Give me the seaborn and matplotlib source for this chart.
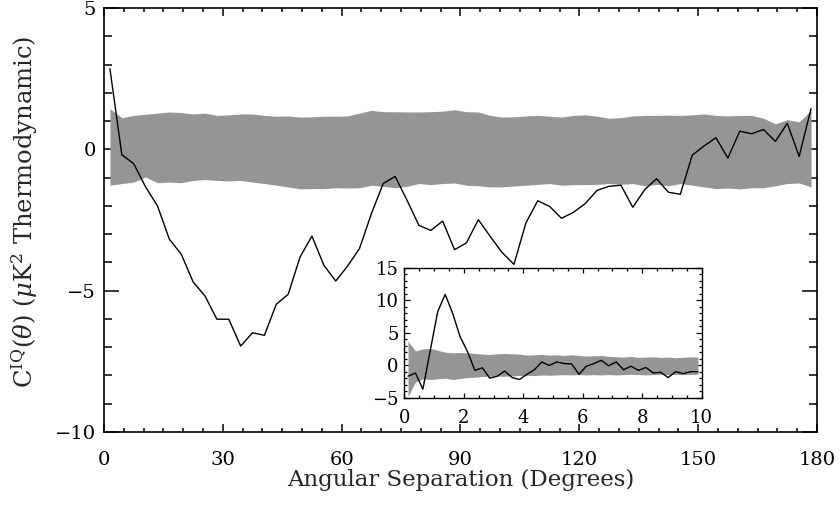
import numpy as np
import matplotlib
matplotlib.use('Agg')
import matplotlib.pyplot as plt
from matplotlib.ticker import MultipleLocator
import seaborn as sns

# main panel: correlation vs angular separation (3 degree bins)
theta = np.arange(1.5, 180, 3.0)
ciq = [2.85, -0.19, -0.51, -1.33, -2.0, -3.18, -3.71, -4.69, -5.19, -6.01,
       -6.01, -6.96, -6.49, -6.58, -5.48, -5.13, -3.81, -3.07, -4.10, -4.66,
       -4.13, -3.51, -2.28, -1.21, -0.96, -1.80, -2.69, -2.87, -2.54, -3.55,
       -3.31, -2.49, -3.08, -3.65, -4.07, -2.61, -1.82, -2.02, -2.44, -2.23,
       -1.92, -1.45, -1.31, -1.27, -2.05, -1.43, -1.04, -1.52, -1.59, -0.21,
       0.12, 0.41, -0.31, 0.64, 0.55, 0.70, 0.28, 0.92, -0.25, 1.44]
band_hi = [1.44, 1.12, 1.20, 1.24, 1.28, 1.32, 1.30, 1.25, 1.28, 1.20,
           1.22, 1.25, 1.25, 1.20, 1.17, 1.18, 1.14, 1.15, 1.17, 1.17,
           1.18, 1.28, 1.38, 1.33, 1.33, 1.32, 1.32, 1.33, 1.35, 1.40,
           1.33, 1.32, 1.20, 1.14, 1.15, 1.18, 1.20, 1.17, 1.14, 1.20,
           1.22, 1.17, 1.10, 1.12, 1.18, 1.20, 1.20, 1.21, 1.20, 1.22,
           1.25, 1.20, 1.18, 1.20, 1.20, 1.10, 0.90, 1.05, 0.97, 1.38]
band_lo = [-1.27, -1.21, -1.16, -0.98, -1.18, -1.16, -1.18, -1.10, -1.07, -1.10,
           -1.12, -1.10, -1.16, -1.21, -1.27, -1.33, -1.40, -1.39, -1.39, -1.36,
           -1.37, -1.36, -1.27, -1.31, -1.36, -1.31, -1.21, -1.25, -1.21, -1.19,
           -1.27, -1.29, -1.33, -1.33, -1.30, -1.27, -1.24, -1.21, -1.27, -1.25,
           -1.25, -1.24, -1.21, -1.24, -1.21, -1.29, -1.24, -1.29, -1.21, -1.27,
           -1.33, -1.39, -1.37, -1.40, -1.36, -1.36, -1.29, -1.21, -1.19, -1.33]

# inset: first 10 degrees in 0.25 degree bins
theta_in = np.arange(0.125, 10, 0.25)
ciq_in = [-1.7, -1.2, -3.7, 2.3, 8.25, 10.9, 8.0, 4.4, 2.1, -0.8,
          -0.4, -2.0, -1.7, -0.9, -1.9, -2.2, -1.4, -0.7, 0.5, -0.05,
          0.5, 0.25, 0.2, -1.4, -0.15, 0.25, 0.75, -0.1, 0.5, -0.7,
          -0.15, -0.8, -0.35, -1.2, -1.1, -1.9, -1.0, -1.3, -1.0, -1.0]
band_in_hi = [3.7, 2.2, 2.5, 2.6, 2.3, 2.0, 1.9, 1.95, 1.9, 1.8,
              1.7, 1.65, 1.75, 1.8, 1.75, 1.7, 1.55, 1.6, 1.65, 1.55,
              1.6, 1.5, 1.6, 1.5, 1.4, 1.45, 1.5, 1.35, 1.3, 1.25,
              1.35, 1.2, 1.25, 1.3, 1.2, 1.25, 1.15, 1.2, 1.3, 1.25]
band_in_lo = [-4.8, -2.6, -2.1, -2.2, -2.1, -2.0, -2.2, -2.05, -1.9, -1.85,
              -1.75, -1.7, -1.7, -1.7, -1.65, -1.6, -1.55, -1.6, -1.5, -1.55,
              -1.5, -1.45, -1.5, -1.45, -1.5, -1.45, -1.5, -1.45, -1.5, -1.45,
              -1.4, -1.45, -1.5, -1.45, -1.4, -1.45, -1.4, -1.45, -1.4, -1.4]

sns.set_theme(style='ticks')
plt.rcParams['font.family'] = ['DejaVu Serif']
plt.rcParams['mathtext.fontset'] = 'dejavuserif'

band_color = '#959595'

fig = plt.figure(figsize=(8.4, 5.05), dpi=100)
ax = fig.add_axes([0.1238, 0.1446, 0.8488, 0.8396])

ax.fill_between(theta, band_lo, band_hi, color=band_color, lw=0)
sns.lineplot(x=theta, y=ciq, color='black', lw=1, ax=ax)

ax.set_xlim(0, 180)
ax.set_ylim(-10, 5)
ax.xaxis.set_major_locator(MultipleLocator(30))
ax.xaxis.set_minor_locator(MultipleLocator(5))
ax.yaxis.set_major_locator(MultipleLocator(5))
ax.yaxis.set_minor_locator(MultipleLocator(1))
ax.tick_params(axis='both', which='both', direction='in', top=True, right=True,
               labelsize=14, colors='black', width=1.1)
ax.tick_params(axis='x', which='major', length=6, pad=14)
ax.tick_params(axis='x', which='minor', length=3)
ax.tick_params(axis='y', which='major', length=11, pad=6)
ax.tick_params(axis='y', which='minor', length=5.5)
for s in ax.spines.values():
    s.set_linewidth(1.2)
    s.set_color('black')

ax.set_xlabel('Angular Separation (Degrees)', fontsize=16.5)
ax.xaxis.set_label_coords(0.5, -0.087)
ax.xaxis.label.set_va('top')
ax.set_ylabel(r'C$^{\rm IQ}$($\theta$) ($\mu$K$^2$ Thermodynamic)', fontsize=17.5)
ax.yaxis.set_label_coords(-0.111, 0.52)
ax.yaxis.label.set_va('center')

# inset
axin = fig.add_axes([0.4813, 0.2125, 0.354, 0.2574])
axin.fill_between(theta_in, band_in_lo, band_in_hi, color=band_color, lw=0)
sns.lineplot(x=theta_in, y=ciq_in, color='black', lw=1, ax=axin)
axin.set_xlim(0, 10)
axin.set_ylim(-5, 15)
axin.xaxis.set_major_locator(MultipleLocator(2))
axin.xaxis.set_minor_locator(MultipleLocator(0.5))
axin.yaxis.set_major_locator(MultipleLocator(5))
axin.yaxis.set_minor_locator(MultipleLocator(1))
axin.tick_params(axis='both', which='both', direction='in', top=True, right=True,
                 labelsize=13, colors='black', width=0.9)
axin.tick_params(axis='x', which='major', length=3.5, pad=8)
axin.tick_params(axis='x', which='minor', length=2)
axin.tick_params(axis='y', which='major', length=4, pad=4)
axin.tick_params(axis='y', which='minor', length=2)
for s in axin.spines.values():
    s.set_linewidth(1.0)
    s.set_color('black')

fig.savefig('out.png', dpi=100)
